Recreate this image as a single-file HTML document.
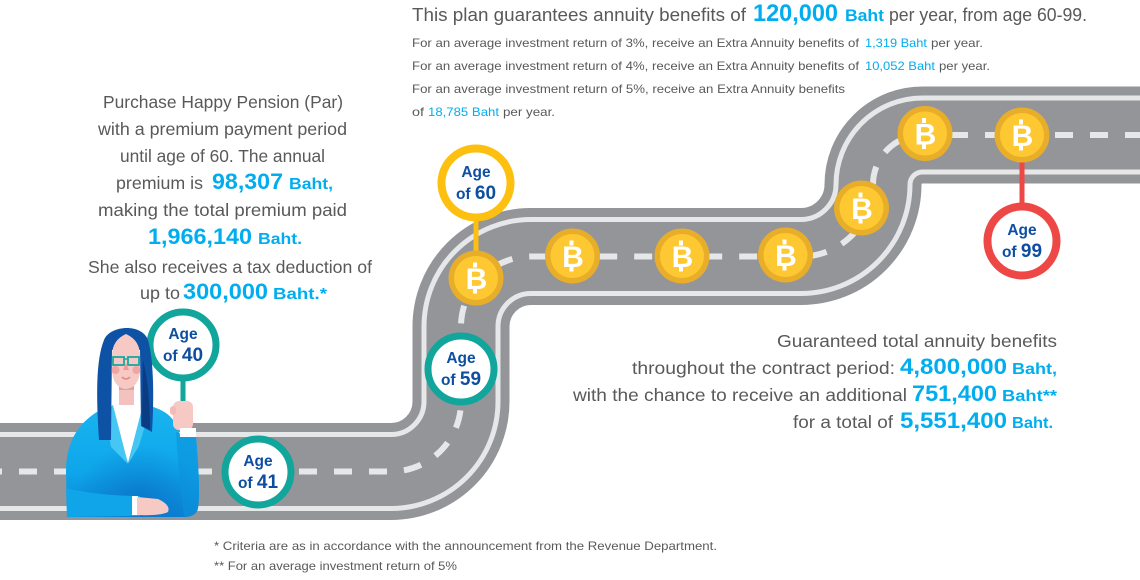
<!DOCTYPE html>
<html><head><meta charset="utf-8">
<style>
html,body{margin:0;padding:0;background:#fff;}
svg{display:block;}
text{font-family:"Liberation Sans",Arial,Helvetica,sans-serif;}
.g{fill:#58595b;}
.c{fill:#00aeef;}
.cb{fill:#00aeef;font-weight:bold;}
.age{fill:#0d4ea1;font-weight:bold;font-size:15.5px;}
.coinB{fill:#fff;font-weight:bold;font-size:30px;}
</style></head><body>
<svg width="1140" height="580" viewBox="0 0 1140 580" xmlns="http://www.w3.org/2000/svg">
<defs>
<linearGradient id="jk" x1="0" y1="0" x2="0" y2="1">
<stop offset="0" stop-color="#19b4ef"/>
<stop offset="0.6" stop-color="#0ea6ea"/>
<stop offset="1" stop-color="#0b83d4"/>
</linearGradient>
<radialGradient id="jk2" cx="0.55" cy="0.85" r="0.5">
<stop offset="0" stop-color="#0a6fc6" stop-opacity="0.75"/>
<stop offset="1" stop-color="#0a6fc6" stop-opacity="0"/>
</radialGradient>
</defs>

<!-- ROAD -->
<g fill="none">
<path d="M -20 471.5 H 391 A 70 70 0 0 0 461 401.5 V 326.5 A 70 70 0 0 1 531 256.5 H 801 A 72 72 0 0 0 873 184.5 A 49.5 49.5 0 0 1 922.5 135 H 1160" stroke="#949599" stroke-width="97"/>
<path d="M -20 471.5 H 391 A 70 70 0 0 0 461 401.5 V 326.5 A 70 70 0 0 1 531 256.5 H 801 A 72 72 0 0 0 873 184.5 A 49.5 49.5 0 0 1 922.5 135 H 1160" stroke="#e6e7e8" stroke-width="79"/>
<path d="M -20 471.5 H 391 A 70 70 0 0 0 461 401.5 V 326.5 A 70 70 0 0 1 531 256.5 H 801 A 72 72 0 0 0 873 184.5 A 49.5 49.5 0 0 1 922.5 135 H 1160" stroke="#949599" stroke-width="69"/>
<path d="M -20 471.5 H 391 A 70 70 0 0 0 461 401.5 V 326.5 A 70 70 0 0 1 531 256.5 H 801 A 72 72 0 0 0 873 184.5 A 49.5 49.5 0 0 1 922.5 135 H 1160" stroke="#e6e7e8" stroke-width="6" stroke-dasharray="18 17" stroke-dashoffset="-4"/>
</g>

<!-- stems -->
<rect x="473.5" y="218" width="5" height="40" fill="#fdc010"/>
<rect x="1019.5" y="158" width="5" height="48" fill="#ee4846"/>
<rect x="180.5" y="378" width="5" height="30" fill="#12a59c"/>

<!-- COINS -->
<g transform="translate(476,278)"><circle r="27.5" fill="#e8ae2a"/><circle r="22" fill="#fec832"/><rect x="-3" y="-15.5" width="4" height="5" fill="#fff"/><rect x="-3" y="10.5" width="4" height="5" fill="#fff"/><text class="coinB" x="0.5" y="11" text-anchor="middle">B</text></g>
<g transform="translate(572.5,256)"><circle r="27.5" fill="#e8ae2a"/><circle r="22" fill="#fec832"/><rect x="-3" y="-15.5" width="4" height="5" fill="#fff"/><rect x="-3" y="10.5" width="4" height="5" fill="#fff"/><text class="coinB" x="0.5" y="11" text-anchor="middle">B</text></g>
<g transform="translate(682,256)"><circle r="27.5" fill="#e8ae2a"/><circle r="22" fill="#fec832"/><rect x="-3" y="-15.5" width="4" height="5" fill="#fff"/><rect x="-3" y="10.5" width="4" height="5" fill="#fff"/><text class="coinB" x="0.5" y="11" text-anchor="middle">B</text></g>
<g transform="translate(785.5,255)"><circle r="27.5" fill="#e8ae2a"/><circle r="22" fill="#fec832"/><rect x="-3" y="-15.5" width="4" height="5" fill="#fff"/><rect x="-3" y="10.5" width="4" height="5" fill="#fff"/><text class="coinB" x="0.5" y="11" text-anchor="middle">B</text></g>
<g transform="translate(861.5,208)"><circle r="27.5" fill="#e8ae2a"/><circle r="22" fill="#fec832"/><rect x="-3" y="-15.5" width="4" height="5" fill="#fff"/><rect x="-3" y="10.5" width="4" height="5" fill="#fff"/><text class="coinB" x="0.5" y="11" text-anchor="middle">B</text></g>
<g transform="translate(925,133.5)"><circle r="27.5" fill="#e8ae2a"/><circle r="22" fill="#fec832"/><rect x="-3" y="-15.5" width="4" height="5" fill="#fff"/><rect x="-3" y="10.5" width="4" height="5" fill="#fff"/><text class="coinB" x="0.5" y="11" text-anchor="middle">B</text></g>
<g transform="translate(1022,135)"><circle r="27.5" fill="#e8ae2a"/><circle r="22" fill="#fec832"/><rect x="-3" y="-15.5" width="4" height="5" fill="#fff"/><rect x="-3" y="10.5" width="4" height="5" fill="#fff"/><text class="coinB" x="0.5" y="11" text-anchor="middle">B</text></g>

<!-- AGE CIRCLES -->
<g transform="translate(258,472)"><circle r="33" fill="#fff" stroke="#12a59c" stroke-width="7"/><text class="age" x="0" y="-6" text-anchor="middle">Age</text><text class="age" x="0" y="16" text-anchor="middle">of <tspan font-size="19">41</tspan></text></g>
<g transform="translate(461,369)"><circle r="33" fill="#fff" stroke="#12a59c" stroke-width="7"/><text class="age" x="0" y="-6" text-anchor="middle">Age</text><text class="age" x="0" y="16" text-anchor="middle">of <tspan font-size="19">59</tspan></text></g>
<g transform="translate(476,183)"><circle r="34.5" fill="#fff" stroke="#fdc010" stroke-width="8"/><text class="age" x="0" y="-6" text-anchor="middle">Age</text><text class="age" x="0" y="16" text-anchor="middle">of <tspan font-size="19">60</tspan></text></g>
<g transform="translate(1022,241)"><circle r="34.5" fill="#fff" stroke="#ee4846" stroke-width="8"/><text class="age" x="0" y="-6" text-anchor="middle">Age</text><text class="age" x="0" y="16" text-anchor="middle">of <tspan font-size="19">99</tspan></text></g>
<g transform="translate(183,345)"><circle r="33" fill="#fff" stroke="#12a59c" stroke-width="7"/><text class="age" x="0" y="-6" text-anchor="middle">Age</text><text class="age" x="0" y="16" text-anchor="middle">of <tspan font-size="19">40</tspan></text></g>

<!-- WOMAN -->
<!-- jacket -->
<path d="M 67 513 L 66 472 C 66 440 80 420 104 408 L 150 406 C 168 411 177 420 180 437 L 196 437 C 199 470 200 495 198 508 C 197 515 190 517 184 517 L 67 517 Z" fill="url(#jk)"/>
<path d="M 67 513 L 66 472 C 66 440 80 420 104 408 L 150 406 C 168 411 177 420 180 437 L 196 437 C 199 470 200 495 198 508 C 197 515 190 517 184 517 L 67 517 Z" fill="url(#jk2)"/>
<!-- raised arm shade -->
<path d="M 176 432 L 196 437 C 199 470 200 495 198 508 C 197 515 190 517 184 516 C 180 490 178 460 176 432 Z" fill="#0b93dc" opacity="0.6"/>
<!-- forearm band -->
<path d="M 66 488 C 90 494 120 496 140 496 L 140 516 L 67 517 Z" fill="#10a4e8"/>
<!-- shirt -->
<path d="M 111 405 L 128 463 L 143 405 Z" fill="#fff"/>
<!-- lapels -->
<path d="M 104 410 L 111 447 L 128 464 L 113 405 Z" fill="#45c6f3"/>
<path d="M 143 405 L 128 464 L 139 446 L 149 412 Z" fill="#45c6f3"/>
<!-- hair -->
<path d="M 99 440 C 96 395 96 360 104 340 C 110 325 142 323 148 340 C 154 360 154 400 152 432 L 141 426 L 140 350 L 112 350 L 111 440 Z" fill="#0e52a6"/>
<path d="M 143 360 C 148 380 150 405 150 430 L 142 426 Z" fill="#0a3c84"/>
<!-- neck -->
<rect x="119" y="382" width="15" height="23" fill="#f3c2be"/>
<rect x="119" y="386" width="15" height="4" fill="#d9a4a2"/>
<!-- face -->
<path d="M 126 334 Q 112 340 112 356 L 112 372 Q 114 388 126 389 Q 138 388 140 372 L 140 356 Q 140 340 126 334 Z" fill="#f6c9c5"/>
<!-- glasses -->
<rect x="113" y="357" width="11" height="8" fill="none" stroke="#18a8a0" stroke-width="1.8"/>
<rect x="128" y="357" width="11" height="8" fill="none" stroke="#18a8a0" stroke-width="1.8"/>
<line x1="124" y1="359" x2="128" y2="359" stroke="#18a8a0" stroke-width="1.5"/>
<!-- cheeks, nose, smile -->
<circle cx="115.5" cy="370" r="4" fill="#f2a3a3"/>
<circle cx="136.5" cy="370" r="4" fill="#f2a3a3"/>
<path d="M 126 363 L 123 370 L 129 370 Z" fill="#ef9a94"/>
<path d="M 122 377 Q 126 381 130 377" fill="none" stroke="#e0807e" stroke-width="1.3"/>
<!-- raised hand -->
<rect x="173" y="401" width="20" height="29" rx="6" fill="#f6c9c5"/>
<rect x="170" y="406" width="6" height="9" rx="3" fill="#f1bcb8"/>
<rect x="180" y="428" width="16" height="9" fill="#fff"/>
<!-- resting hand -->
<rect x="132" y="496" width="6" height="19" fill="#fff"/>
<path d="M 137 497 L 158 499 Q 171 505 168 512 Q 160 516 137 515 Z" fill="#f6c9c5"/>

<!-- TOP TEXT -->
<text class="g" x="412" y="21" font-size="18" textLength="334" lengthAdjust="spacingAndGlyphs">This plan guarantees annuity benefits of</text>
<text class="cb" x="753" y="21" font-size="24" textLength="85" lengthAdjust="spacingAndGlyphs">120,000</text>
<text class="cb" x="845" y="21" font-size="17" textLength="39" lengthAdjust="spacingAndGlyphs">Baht</text>
<text class="g" x="889" y="21" font-size="18" textLength="198" lengthAdjust="spacingAndGlyphs">per year, from age 60-99.</text>

<text class="g" x="412" y="47" font-size="12" textLength="447" lengthAdjust="spacingAndGlyphs">For an average investment return of 3%, receive an Extra Annuity benefits of</text>
<text class="c" x="865" y="47" font-size="12" textLength="62" lengthAdjust="spacingAndGlyphs">1,319 Baht</text>
<text class="g" x="931" y="47" font-size="12" textLength="52" lengthAdjust="spacingAndGlyphs">per year.</text>

<text class="g" x="412" y="70" font-size="12" textLength="447" lengthAdjust="spacingAndGlyphs">For an average investment return of 4%, receive an Extra Annuity benefits of</text>
<text class="c" x="865" y="70" font-size="12" textLength="70" lengthAdjust="spacingAndGlyphs">10,052 Baht</text>
<text class="g" x="939" y="70" font-size="12" textLength="51" lengthAdjust="spacingAndGlyphs">per year.</text>

<text class="g" x="412" y="93" font-size="12" textLength="433" lengthAdjust="spacingAndGlyphs">For an average investment return of 5%, receive an Extra Annuity benefits</text>

<text class="g" x="412" y="116" font-size="12" textLength="12" lengthAdjust="spacingAndGlyphs">of</text>
<text class="c" x="428" y="116" font-size="12" textLength="71" lengthAdjust="spacingAndGlyphs">18,785 Baht</text>
<text class="g" x="503" y="116" font-size="12" textLength="52" lengthAdjust="spacingAndGlyphs">per year.</text>

<!-- LEFT TEXT -->
<text class="g" x="103" y="108" font-size="17.5" textLength="240" lengthAdjust="spacingAndGlyphs">Purchase Happy Pension (Par)</text>
<text class="g" x="98" y="135" font-size="17.5" textLength="249" lengthAdjust="spacingAndGlyphs">with a premium payment period</text>
<text class="g" x="120" y="162" font-size="17.5" textLength="205" lengthAdjust="spacingAndGlyphs">until age of 60. The annual</text>
<text class="g" x="116" y="189" font-size="17.5" textLength="87" lengthAdjust="spacingAndGlyphs">premium is</text>
<text class="cb" x="212" y="189" font-size="22" textLength="71" lengthAdjust="spacingAndGlyphs">98,307</text>
<text class="cb" x="289" y="189" font-size="15.5" textLength="44" lengthAdjust="spacingAndGlyphs">Baht,</text>
<text class="g" x="98" y="216" font-size="17.5" textLength="249" lengthAdjust="spacingAndGlyphs">making the total premium paid</text>
<text class="cb" x="148" y="244" font-size="22" textLength="104" lengthAdjust="spacingAndGlyphs">1,966,140</text>
<text class="cb" x="258" y="244" font-size="15.5" textLength="44" lengthAdjust="spacingAndGlyphs">Baht.</text>
<text class="g" x="88" y="273" font-size="17.5" textLength="284" lengthAdjust="spacingAndGlyphs">She also receives a tax deduction of</text>
<text class="g" x="140" y="299" font-size="17.5" textLength="40" lengthAdjust="spacingAndGlyphs">up to</text>
<text class="cb" x="183" y="299" font-size="22" textLength="85" lengthAdjust="spacingAndGlyphs">300,000</text>
<text class="cb" x="273" y="299" font-size="15.5" textLength="54" lengthAdjust="spacingAndGlyphs">Baht.*</text>

<!-- RIGHT BOTTOM TEXT -->
<text class="g" x="777" y="347" font-size="17.5" textLength="280" lengthAdjust="spacingAndGlyphs">Guaranteed total annuity benefits</text>
<text class="g" x="632" y="374" font-size="17.5" textLength="263" lengthAdjust="spacingAndGlyphs">throughout the contract period:</text>
<text class="cb" x="900" y="374" font-size="22" textLength="107" lengthAdjust="spacingAndGlyphs">4,800,000</text>
<text class="cb" x="1012" y="374" font-size="15.5" textLength="45" lengthAdjust="spacingAndGlyphs">Baht,</text>
<text class="g" x="573" y="401" font-size="17.5" textLength="334" lengthAdjust="spacingAndGlyphs">with the chance to receive an additional</text>
<text class="cb" x="912" y="401" font-size="22" textLength="85" lengthAdjust="spacingAndGlyphs">751,400</text>
<text class="cb" x="1002" y="401" font-size="15.5" textLength="55" lengthAdjust="spacingAndGlyphs">Baht**</text>
<text class="g" x="793" y="428" font-size="17.5" textLength="100" lengthAdjust="spacingAndGlyphs">for a total of</text>
<text class="cb" x="900" y="428" font-size="22" textLength="107" lengthAdjust="spacingAndGlyphs">5,551,400</text>
<text class="cb" x="1012" y="428" font-size="15.5" textLength="41" lengthAdjust="spacingAndGlyphs">Baht.</text>

<!-- FOOTER -->
<text class="g" x="214" y="550" font-size="12" textLength="503" lengthAdjust="spacingAndGlyphs">* Criteria are as in accordance with the announcement from the Revenue Department.</text>
<text class="g" x="214" y="570" font-size="12" textLength="243" lengthAdjust="spacingAndGlyphs">** For an average investment return of 5%</text>
</svg>
</body></html>
